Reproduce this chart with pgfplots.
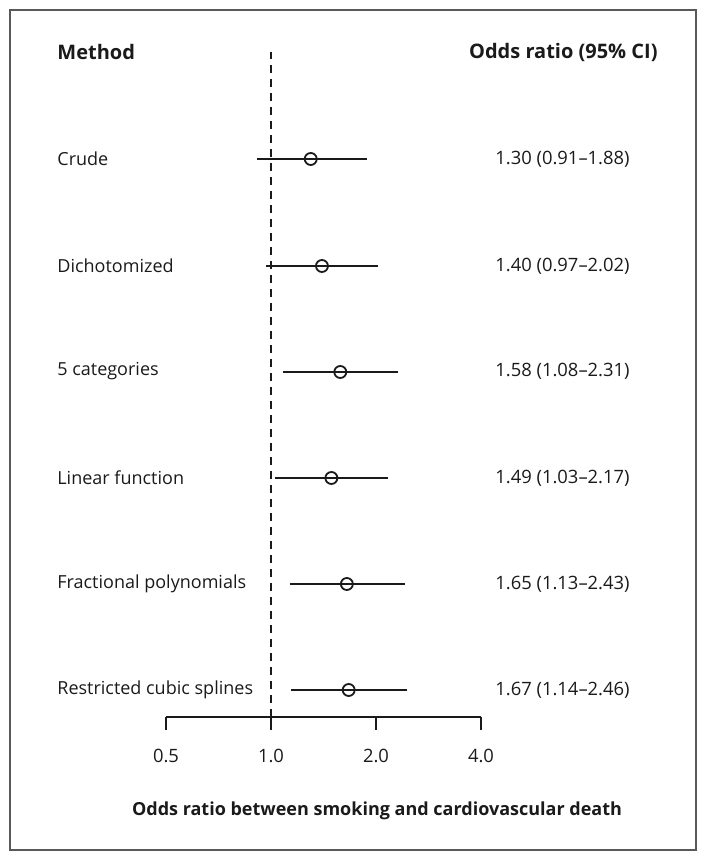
\documentclass[border=0pt]{standalone}
\usepackage{pgfplots}
\pgfplotsset{compat=1.18}
\usepackage{fontspec}
\setmainfont{Open Sans}
\definecolor{ink}{HTML}{1A1A1A}
\begin{document}
\begin{tikzpicture}[font=\fontsize{9}{11}\selectfont, color=ink]
\begin{axis}[
  scale only axis,
  width=157.5pt, height=332.5pt,
  xmode=log, log basis x=2,
  xmin=0.5, xmax=4, ymin=143, ymax=808,
  enlargelimits=false,
  axis x line*=bottom, axis y line=none,
  xtick={0.5,1,2,4}, xticklabels={0.5,1.0,2.0,4.0},
  tick align=outside, major tick length=6.5pt,
  x axis line style={line width=0.9pt, ink},
  every tick/.style={line width=0.9pt, ink},
  xticklabel style={font=\fontsize{9.2}{11}\selectfont, yshift=-6pt},
  /pgf/number format/assume math mode=true,
  clip=false,
]
% reference line at OR = 1
\addplot[ink, line width=0.9pt, dash pattern=on 4pt off 3pt] coordinates {(1,143) (1,808)};
% confidence intervals
\addplot[ink, line width=0.9pt] coordinates {(0.91,701) (1.88,701)};
\addplot[ink, line width=0.9pt] coordinates {(0.97,594) (2.02,594)};
\addplot[ink, line width=0.9pt] coordinates {(1.08,488) (2.31,488)};
\addplot[ink, line width=0.9pt] coordinates {(1.03,382) (2.17,382)};
\addplot[ink, line width=0.9pt] coordinates {(1.13,276) (2.43,276)};
\addplot[ink, line width=0.9pt] coordinates {(1.14,170) (2.46,170)};
% point estimates
\addplot[only marks, mark=o, mark size=3pt, line width=0.9pt, ink, fill=white,
  mark options={fill=white}] coordinates {
  (1.30,701) (1.40,594) (1.58,488) (1.49,382) (1.65,276) (1.67,170)};
% text
\node[anchor=west, inner sep=0pt, xshift=-54.5pt, font=\fontsize{10}{12}\selectfont\bfseries] at (axis cs:0.5,808) {Method};
\node[anchor=east, inner sep=0pt, xshift=88.5pt, font=\fontsize{10}{12}\selectfont\bfseries] at (axis cs:4,808) {Odds ratio (95\% CI)};
\node[anchor=west, inner sep=0pt, xshift=-54.5pt] at (axis cs:0.5,701) {Crude};
\node[anchor=west, inner sep=0pt, xshift=-54.5pt] at (axis cs:0.5,594) {Dichotomized};
\node[anchor=west, inner sep=0pt, xshift=-54.5pt] at (axis cs:0.5,489) {5 categories};
\node[anchor=west, inner sep=0pt, xshift=-54.5pt] at (axis cs:0.5,382) {Linear function};
\node[anchor=west, inner sep=0pt, xshift=-54.5pt] at (axis cs:0.5,276) {Fractional polynomials};
\node[anchor=west, inner sep=0pt, xshift=-54.5pt] at (axis cs:0.5,170) {Restricted cubic splines};
\begin{scope}[font=\fontsize{9.2}{11}\selectfont]
\node[anchor=east, inner sep=0pt, xshift=74.5pt] at (axis cs:4,701) {1.30 (0.91–1.88)};
\node[anchor=east, inner sep=0pt, xshift=74.5pt] at (axis cs:4,594) {1.40 (0.97–2.02)};
\node[anchor=east, inner sep=0pt, xshift=74.5pt] at (axis cs:4,489) {1.58 (1.08–2.31)};
\node[anchor=east, inner sep=0pt, xshift=74.5pt] at (axis cs:4,382) {1.49 (1.03–2.17)};
\node[anchor=east, inner sep=0pt, xshift=74.5pt] at (axis cs:4,276) {1.65 (1.13–2.43)};
\node[anchor=east, inner sep=0pt, xshift=74.5pt] at (axis cs:4,170) {1.67 (1.14–2.46)};
\end{scope}
\node[inner sep=0pt, xshift=105.5pt, font=\fontsize{9}{11}\selectfont\bfseries] at (axis cs:0.5,49) {Odds ratio between smoking and cardiovascular death};
\coordinate (O) at (axis cs:0.5,143);
\end{axis}
\draw[gray!70!black, line width=0.6pt] ([shift={(-78pt,353.5pt)}]O) rectangle ([shift={(265pt,-66.5pt)}]O);
\path ([shift={(-83pt,358.5pt)}]O) rectangle ([shift={(270pt,-71.5pt)}]O);
\end{tikzpicture}
\end{document}
